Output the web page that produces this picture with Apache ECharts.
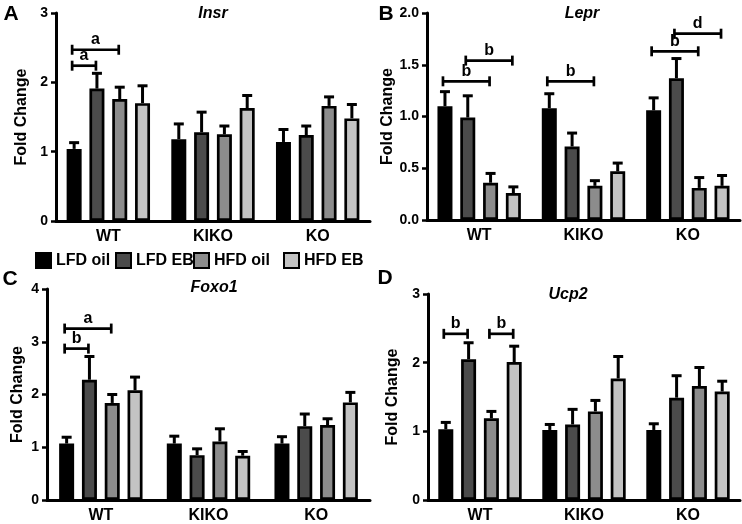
<!DOCTYPE html>
<html>
<head>
<meta charset="utf-8">
<script src="https://cdn.jsdelivr.net/npm/echarts@6/dist/echarts.min.js"></script>
<style>html,body{margin:0;padding:0;background:#fff;}#chart{width:742px;height:524px;}</style>
</head>
<body>
<div id="chart"></div>
<script>
// ---------- DATA ----------
const categories = ['WT', 'KIKO', 'KO'];
const groups = ['LFD oil', 'LFD EB', 'HFD oil', 'HFD EB'];
const genes = ['Insr', 'Lepr', 'Foxo1', 'Ucp2'];
const panelLetters = ['A', 'B', 'C', 'D'];

// means per group (rows) for WT, KIKO, KO
const insrMean = [[1.04, 1.18, 1.14], [1.91, 1.28, 1.24], [1.76, 1.25, 1.66], [1.70, 1.63, 1.48]];
const insrSem  = [[0.09, 0.22, 0.18], [0.22, 0.29, 0.13], [0.17, 0.12, 0.13], [0.25, 0.18, 0.20]];
const leprMean = [[1.10, 1.08, 1.06], [0.99, 0.71, 1.37], [0.36, 0.33, 0.31], [0.26, 0.47, 0.33]];
const leprSem  = [[0.14, 0.14, 0.12], [0.21, 0.13, 0.19], [0.09, 0.05, 0.10], [0.06, 0.08, 0.10]];
const foxo1Mean = [[1.07, 1.07, 1.07], [2.28, 0.85, 1.40], [1.84, 1.11, 1.42], [2.08, 0.84, 1.85]];
const foxo1Sem  = [[0.12, 0.14, 0.13], [0.44, 0.12, 0.23], [0.16, 0.24, 0.12], [0.25, 0.08, 0.19]];
const ucp2Mean = [[1.03, 1.02, 1.02], [2.05, 1.10, 1.49], [1.19, 1.29, 1.66], [2.01, 1.77, 1.58]];
const ucp2Sem  = [[0.10, 0.08, 0.09], [0.24, 0.22, 0.32], [0.10, 0.16, 0.27], [0.23, 0.32, 0.15]];

// significance brackets: [category, fromBar, toBar, y, letter]
const insrSig = [[0, 0, 1, 2.24, 'a'], [0, 0, 2, 2.47, 'a']];
const leprSig = [[0, 0, 2, 1.34, 'b'], [0, 1, 3, 1.54, 'b'], [1, 0, 2, 1.34, 'b'], [2, 0, 2, 1.63, 'b'], [2, 1, 3, 1.80, 'd']];
const foxo1Sig = [[0, 0, 1, 2.87, 'b'], [0, 0, 2, 3.25, 'a']];
const ucp2Sig = [[0, 0, 1, 2.42, 'b'], [0, 2, 3, 2.42, 'b']];

// y-axis ranges & tick labels
const insrTicks = ['0', '1', '2', '3'];
const leprTicks = ['0.0', '0.5', '1.0', '1.5', '2.0'];
const foxo1Ticks = ['0', '1', '2', '3', '4'];
const ucp2Ticks = ['0', '1', '2', '3'];
const yMax = [3, 2, 4, 3];
const yInterval = [1, 0.5, 1, 1];

// ---------- STYLE / LAYOUT ----------
const FONT = 'Liberation Sans, Arial, Helvetica, sans-serif';
const colors = ['#000000', '#4b4b4b', '#8c8c8c', '#c3c3c3'];
const BAR_W = 15, BAR_GAP = 0.52;
const PITCH = BAR_W * (1 + BAR_GAP);
const CAP = 5;
const grids = [
  {left: 56, top: 13, width: 314, height: 208},
  {left: 427, top: 13, width: 313, height: 207},
  {left: 47, top: 289, width: 323, height: 212},
  {left: 428, top: 294, width: 312, height: 207}
];
const nameGaps = [26, 28, 21, 27];
const titlePos = [[213, 14], [582, 14], [214, 288], [568, 295]];
const letterPos = [[11, 14], [386, 14], [10, 279], [385, 278]];
const legendLeft = [35, 115, 193, 283];

const means = [insrMean, leprMean, foxo1Mean, ucp2Mean];
const sems = [insrSem, leprSem, foxo1Sem, ucp2Sem];
const sigs = [insrSig, leprSig, foxo1Sig, ucp2Sig];
const tickLabels = [insrTicks, leprTicks, foxo1Ticks, ucp2Ticks];

const xAxes = [], yAxes = [], series = [], graphics = [];

for (let p = 0; p < 4; p++) {
  xAxes.push({
    gridIndex: p, type: 'category', data: categories,
    axisLine: {lineStyle: {color: '#000', width: 3}},
    axisTick: {alignWithLabel: true, length: 5, lineStyle: {color: '#000', width: 2.5}},
    axisLabel: {color: '#000', fontFamily: FONT, fontWeight: 'bold', fontSize: 16, margin: 8},
    splitLine: {show: false}
  });
  const labels = tickLabels[p];
  const iv = yInterval[p];
  yAxes.push({
    gridIndex: p, type: 'value', min: 0, max: yMax[p], interval: iv,
    name: 'Fold Change', nameLocation: 'middle', nameGap: nameGaps[p],
    nameTextStyle: {color: '#000', fontFamily: FONT, fontWeight: 'bold', fontSize: 16},
    axisLine: {show: true, lineStyle: {color: '#000', width: 3}},
    axisTick: {show: true, length: 5, lineStyle: {color: '#000', width: 2.5}},
    axisLabel: {color: '#000', fontFamily: FONT, fontWeight: 'bold', fontSize: 14, margin: 8,
      formatter: v => labels[Math.round(v / iv)]},
    splitLine: {show: false}
  });

  // error bars (drawn first so bars sit on top of stem base)
  const errData = [];
  for (let g = 0; g < 4; g++) for (let c = 0; c < 3; c++) errData.push([c, g, means[p][g][c], sems[p][g][c]]);
  series.push({
    type: 'custom', xAxisIndex: p, yAxisIndex: p, data: errData, silent: true, z: 1,
    renderItem: (params, api) => {
      const c = api.value(0), g = api.value(1), m = api.value(2), s = api.value(3);
      const base = api.coord([c, m]), top = api.coord([c, m + s]);
      const x = base[0] + (g - 1.5) * PITCH;
      return {type: 'group', children: [
        {type: 'line', shape: {x1: x, y1: base[1], x2: x, y2: top[1]}, style: {stroke: '#000', lineWidth: 3}},
        {type: 'line', shape: {x1: x - CAP, y1: top[1], x2: x + CAP, y2: top[1]}, style: {stroke: '#000', lineWidth: 3}}
      ]};
    }
  });

  for (let g = 0; g < 4; g++) {
    series.push({
      type: 'bar', name: groups[g], xAxisIndex: p, yAxisIndex: p,
      data: means[p][g], barWidth: BAR_W, barGap: (BAR_GAP * 100) + '%', z: 2,
      itemStyle: {color: colors[g], borderColor: '#000', borderWidth: 2.7},
      emphasis: {disabled: true}
    });
  }

  const sig = sigs[p];
  series.push({
    type: 'custom', xAxisIndex: p, yAxisIndex: p, silent: true, z: 3,
    data: sig.map(s => [s[0], s[1], s[2], s[3]]),
    renderItem: (params, api) => {
      const c = api.value(0), a = api.value(1), b = api.value(2), y = api.value(3);
      const pt = api.coord([c, y]);
      const x1 = pt[0] + (a - 1.5) * PITCH - 2, x2 = pt[0] + (b - 1.5) * PITCH - 1;
      const yy = pt[1];
      const st = {stroke: '#000', lineWidth: 2.7};
      return {type: 'group', children: [
        {type: 'line', shape: {x1: x1, y1: yy, x2: x2, y2: yy}, style: st},
        {type: 'line', shape: {x1: x1, y1: yy - 5, x2: x1, y2: yy + 5}, style: st},
        {type: 'line', shape: {x1: x2, y1: yy - 5, x2: x2, y2: yy + 5}, style: st},
        {type: 'text', x: (x1 + x2) / 2, y: yy - 2,
          style: {text: sig[params.dataIndex][4], fill: '#000', font: 'bold 16px ' + FONT, align: 'center', verticalAlign: 'bottom'}}
      ]};
    }
  });

  graphics.push({type: 'text', x: titlePos[p][0], y: titlePos[p][1],
    style: {text: genes[p], fill: '#000', font: 'italic bold 16px ' + FONT, align: 'center', verticalAlign: 'middle'}});
  graphics.push({type: 'text', x: letterPos[p][0], y: letterPos[p][1],
    style: {text: panelLetters[p], fill: '#000', font: 'bold 21px ' + FONT, align: 'center', verticalAlign: 'middle'}});
}

const legends = groups.map((n, i) => ({
  data: [n], left: legendLeft[i], top: 252, padding: 0, itemGap: 0,
  itemWidth: 15, itemHeight: 15, icon: 'rect', selectedMode: false,
  textStyle: {color: '#000', fontFamily: FONT, fontWeight: 'bold', fontSize: 16}
}));

const chart = echarts.init(document.getElementById('chart'), null, {renderer: 'canvas'});
chart.setOption({
  animation: false,
  backgroundColor: '#fff',
  grid: grids,
  xAxis: xAxes,
  yAxis: yAxes,
  legend: legends,
  graphic: graphics,
  series: series
});
</script>
</body>
</html>
